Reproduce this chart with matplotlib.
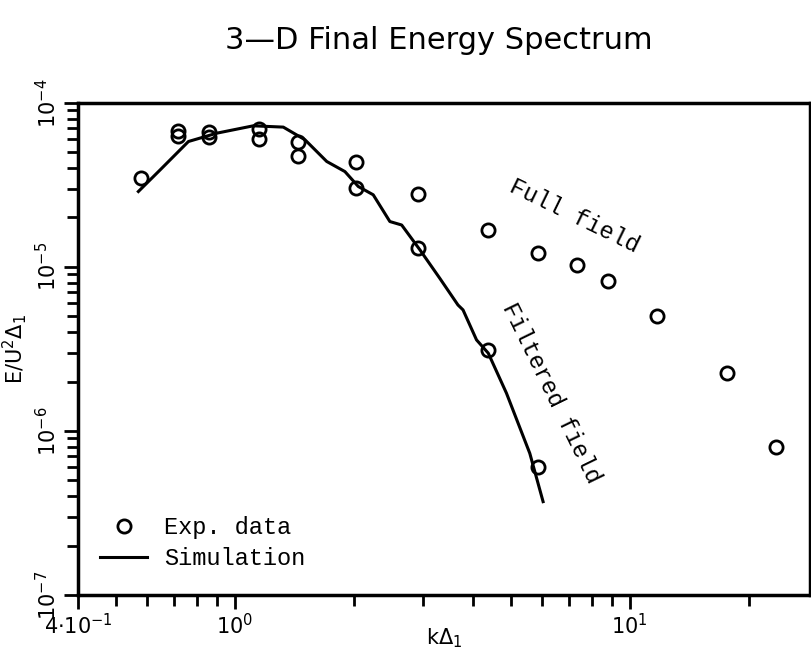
import matplotlib
matplotlib.use("Agg")
import matplotlib.pyplot as plt
import matplotlib.ticker as ticker
import numpy as np

MONO = "Liberation Mono"

exp_k = [0.577, 0.718, 0.718, 0.861, 0.861, 1.152, 1.152, 1.441, 1.441,
         2.021, 2.021, 2.914, 2.914, 4.38, 4.38, 5.87, 5.87,
         7.33, 8.78, 11.75, 17.67, 23.5]
exp_E = [3.47e-5, 6.75e-5, 6.29e-5, 6.68e-5, 6.18e-5, 6.91e-5, 6.03e-5, 5.76e-5, 4.75e-5,
         4.34e-5, 3.01e-5, 2.77e-5, 1.30e-5, 1.68e-5, 3.10e-6, 1.21e-5, 6.03e-7,
         1.02e-5, 8.22e-6, 5.05e-6, 2.25e-6, 8.02e-7]

# Simulation (filtered field)
sim_k = [0.569, 0.646, 0.762, 0.899, 1.112, 1.325, 1.504, 1.707, 1.898, 2.052,
         2.239, 2.467, 2.643, 2.94, 3.30, 3.67, 3.78, 4.09, 4.38, 4.87, 5.58, 6.03]
sim_E = [2.88e-5, 3.90e-5, 5.81e-5, 6.53e-5, 7.24e-5, 7.11e-5, 5.95e-5, 4.39e-5, 3.81e-5, 3.09e-5,
         2.75e-5, 1.89e-5, 1.80e-5, 1.27e-5, 8.53e-6, 5.86e-6, 5.47e-6, 3.59e-6, 2.98e-6, 1.70e-6, 7.31e-7, 3.71e-7]

x_major = [0.4, 1, 10]
x_major_labels = [r"$4{\cdot}10^{-1}$", r"$10^{0}$", r"$10^{1}$"]
x_minor = [0.5, 0.6, 0.7, 0.8, 0.9, 2, 3, 4, 5, 6, 7, 8, 9, 20]
y_major = [1e-7, 1e-6, 1e-5, 1e-4]
y_major_labels = [r"$10^{-7}$", r"$10^{-6}$", r"$10^{-5}$", r"$10^{-4}$"]

fig = plt.figure(figsize=(8.12, 6.59), dpi=100)
ax = fig.add_axes([0.096, 0.097, 0.9015, 0.747])

ax.plot(exp_k, exp_E, linestyle="none", marker="o", markersize=9.5,
        markerfacecolor="none", markeredgecolor="black", markeredgewidth=2,
        label="Exp. data")
ax.plot(sim_k, sim_E, color="black", linewidth=2.2, label="Simulation")

ax.set_xscale("log")
ax.set_yscale("log")
ax.set_xlim(0.4, 28.6)
ax.set_ylim(1e-7, 1e-4)

ax.xaxis.set_major_locator(ticker.FixedLocator(x_major))
ax.xaxis.set_major_formatter(ticker.FixedFormatter(x_major_labels))
ax.xaxis.set_minor_locator(ticker.FixedLocator(x_minor))
ax.xaxis.set_minor_formatter(ticker.NullFormatter())
ax.yaxis.set_major_locator(ticker.FixedLocator(y_major))
ax.yaxis.set_major_formatter(ticker.FixedFormatter(y_major_labels))
ax.yaxis.set_minor_locator(ticker.LogLocator(base=10, subs=np.arange(2, 10)))
ax.yaxis.set_minor_formatter(ticker.NullFormatter())

ax.tick_params(which="major", direction="out", length=10, width=2, labelsize=15, pad=3)
ax.tick_params(which="minor", direction="out", length=8, width=2)
for lab in ax.get_yticklabels():
    lab.set_rotation(90)
    lab.set_va("center")

for sp in ax.spines.values():
    sp.set_linewidth(2.5)

ax.set_xlabel(r"k$\Delta_1$", fontsize=15, va="center")
ax.xaxis.set_label_coords(0.5, -0.088)
ax.set_ylabel(r"E/U$^2\Delta_1$", fontsize=15, labelpad=4)

ax.text(0.678, 0.770, "Full field", transform=ax.transAxes, rotation=-26,
        rotation_mode="anchor", ha="center", va="center", fontsize=17, family=MONO)
ax.text(0.646, 0.411, "Filtered field", transform=ax.transAxes, rotation=-64,
        rotation_mode="anchor", ha="center", va="center", fontsize=17, family=MONO)

leg = ax.legend(loc="lower left", bbox_to_anchor=(0.03, 0.05), frameon=False,
                borderaxespad=0, borderpad=0, handlelength=2.0, handletextpad=0.7,
                labelspacing=0.35, prop={"family": MONO, "size": 17})

fig.text(0.54, 0.939, "3\u2014D Final Energy Spectrum", ha="center", va="center",
         fontsize=22)

plt.savefig("out.png", dpi=100)
